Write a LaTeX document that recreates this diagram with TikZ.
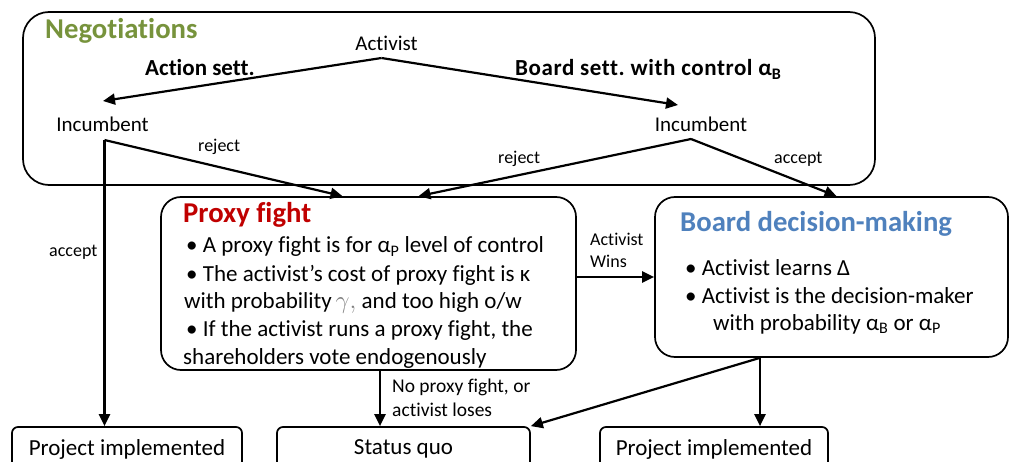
\documentclass[tikz,border=0pt]{standalone}
\usepackage{fontspec}
\setmainfont{Carlito}[Ligatures=NoCommon]
\usetikzlibrary{arrows.meta}
\definecolor{neggreen}{HTML}{77933C}
\definecolor{proxyred}{HTML}{C00000}
\definecolor{boardblue}{HTML}{4F81BD}
\frenchspacing
\begin{document}
\begin{tikzpicture}[x=1pt,y=-1pt,
  panel/.style={draw, line width=1.7pt},
  arr/.style={line width=2.2pt, -{Triangle[length=12pt,width=11pt]}},
  txt/.style={inner sep=0pt, anchor=base west},
  lbl/.style={txt, font=\fontsize{18}{22}\selectfont},
  player/.style={inner sep=0pt, anchor=base, font=\fontsize{21}{25}\selectfont},
  body/.style={txt, font=\fontsize{23}{28}\selectfont},
  title/.style={txt, font=\bfseries\fontsize{28.7}{32}\selectfont},
  offer/.style={txt, font=\bfseries\fontsize{23}{27}\selectfont},
  outcome/.style={panel, rounded corners=6pt, minimum height=44pt, inner sep=0pt, font=\fontsize{23}{28}\selectfont}
]
\clip (0,0) rectangle (1011,462);
\fill[white] (0,0) rectangle (1011,462);

% main boxes
\node[panel, rounded corners=26pt, minimum width=852pt, minimum height=173pt] (neg) at (449,98.5) {};
\node[panel, rounded corners=20pt, minimum width=415pt, minimum height=173pt] (proxy) at (368.5,283.5) {};
\node[panel, rounded corners=20pt, minimum width=353pt, minimum height=160pt] (board) at (831.5,277) {};

% outcome boxes
\node[outcome, minimum width=230pt] (pl1) at (127,449) {Project implemented};
\node[outcome, minimum width=253pt] (sq) at (403.5,449) {Status quo};
\node[outcome, minimum width=228pt] (pl2) at (714,449) {Project implemented};

% negotiation texts
\node[title, text=neggreen] (negt) at (45,39) {Negotiations};
\node[player] (act) at (386.5,51) {Activist};
\node[offer] (actsett) at (145,76) {Action sett.};
\node[offer] (boardsett) at (515,76) {\addfontfeature{LetterSpace=2.5}Board sett. with control α\textsubscript{B}};
\node[player] (inc1) at (102.5,132) {Incumbent};
\node[player] (inc2) at (701,132) {Incumbent};
\node[lbl] (rej1) at (198,152) {reject};
\node[lbl] (rej2) at (498,164) {reject};
\node[lbl] (acc2) at (774,164) {accept};
\node[lbl] (acc1) at (49,257) {accept};

% proxy fight texts
\node[title, text=proxyred] (proxyt) at (183,223) {Proxy fight};
\node[body] (p1) at (186,253) {• A proxy fight is for α\textsubscript{P} level of control};
\node[body] (p2) at (186,281) {• The activist’s cost of proxy fight is κ};
\node[body] (p3) at (184,308) {with probability\,{\color{gray}\fontsize{27}{28}\selectfont$\gamma,$} and too high o/w};
\node[body] (p4) at (186,336) {• If the activist runs a proxy fight, the};
\node[body] (p5) at (183,364) {shareholders vote endogenously};

% board texts
\node[title, text=boardblue] (boardt) at (680,232) {Board decision-making};
\node[body] (b1) at (685,275) {• Activist learns Δ};
\node[body] (b2) at (685,303) {• Activist is the decision-maker};
\node[body] (b3) at (713,330) {with probability α\textsubscript{B} or α\textsubscript{P}};

% connector labels
\node[lbl] (wins1) at (590,245) {Activist};
\node[lbl] (wins2) at (590,267) {Wins};
\node[txt, font=\fontsize{19.5}{23}\selectfont] (nopf1) at (392,392) {No proxy fight, or};
\node[txt, font=\fontsize{19.5}{23}\selectfont] (nopf2) at (392,416) {activist loses};

% branch points
\coordinate (actS) at ([shift={(-5,7)}]act.base);
\coordinate (inc1N) at ([shift={(0.5,-31)}]inc1.base);
\coordinate (inc2N) at ([shift={(-23,-27)}]inc2.base);
\coordinate (inc1S) at ([shift={(2,8)}]inc1.base);
\coordinate (inc2S) at ([shift={(-10,7)}]inc2.base);
\coordinate (proxyS) at ([shift={(11.5,0)}]proxy.south);
\coordinate (boardS) at ([shift={(-71.5,0)}]board.south);

% connectors
\draw[arr] (actS) -- (inc1N);
\draw[arr] (actS) -- (inc2N);
\draw[arr] (inc1S) -- ([shift={(-26,0)}]proxy.north);
\draw[arr] (inc1S) -- (inc1S |- pl1.north);
\draw[arr] (inc2S) -- ([shift={(50,0)}]proxy.north);
\draw[arr] (inc2S) -- ([shift={(5,0)}]board.north);
\draw[arr] (proxy.east |- board.west) -- (board.west);
\draw[arr] (proxyS) -- (proxyS |- sq.north);
\draw[arr] (boardS) -- (sq.north east);
\draw[arr] (boardS) -- (boardS |- pl2.north);
\end{tikzpicture}
\end{document}
